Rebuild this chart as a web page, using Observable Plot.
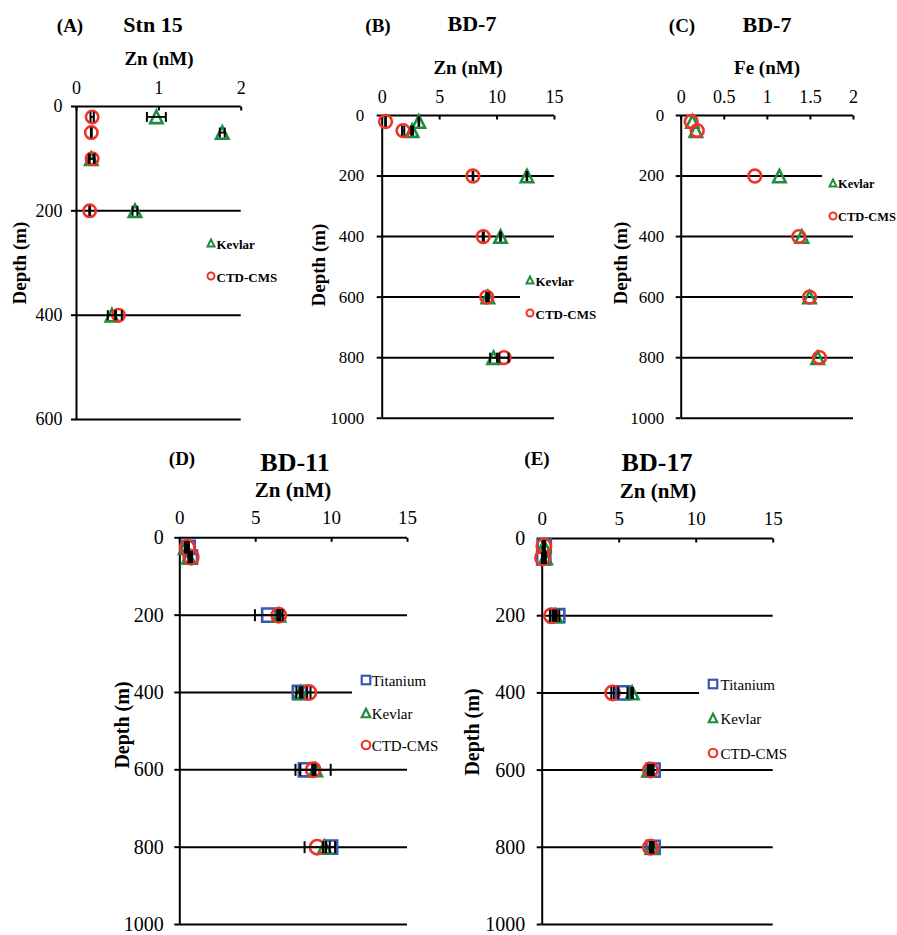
<!DOCTYPE html>
<html><head><meta charset="utf-8">
<script src="https://cdn.jsdelivr.net/npm/d3@7"></script>
<script src="https://cdn.jsdelivr.net/npm/@observablehq/plot@0.6"></script>
<style>
html,body{margin:0;padding:0;background:#fff;overflow:hidden;}
#root{position:relative;width:897px;height:935px;font-family:"Liberation Serif","Times New Roman",serif;color:#000;overflow:hidden;}
.t{position:absolute;transform:translate(-50%,-50%);white-space:nowrap;line-height:1;font-weight:bold;}
.yl{position:absolute;transform:translate(-50%,-50%) rotate(-90deg);white-space:nowrap;line-height:1;font-weight:bold;}
.panel{position:absolute;}
.box{position:absolute;background:#fff;}
.li{position:absolute;white-space:nowrap;line-height:1;transform:translateY(-50%);}
.mk{position:absolute;overflow:visible;}
</style></head><body><div id="root"></div><script>
// ---------- Data ----------
// (A) Stn 15 — Zn (nM)
const stn15Depth = [20, 50, 100, 200, 400];
const stn15KevlarZn = [0.97, 1.77, 0.18, 0.71, 0.43];
const stn15KevlarErr = [0.115, 0.03, 0.03, 0.03, 0.05];
const stn15CtdZn = [0.19, 0.18, 0.19, 0.16, 0.51];
const stn15CtdErr = [0.02, 0.005, 0.03, 0.005, 0.04];

// (B) BD-7 — Zn (nM)
const bd7Depth = [20, 50, 200, 400, 600, 800];
const bd7KevlarZn = [3.19, 2.6, 12.6, 10.3, 9.2, 9.7];
const bd7KevlarZnErr = [0.03, 0.08, 0.03, 0.03, 0.08, 0.3];
const bd7CtdZn = [0.29, 1.82, 7.9, 8.8, 9.1, 10.6];
const bd7CtdZnErr = [0.03, 0.1, 0.03, 0.05, 0.05, 0.4];

// (C) BD-7 — Fe (nM)
const bd7KevlarFe = [0.13, 0.17, 1.14, 1.40, 1.49, 1.585];
const bd7CtdFe = [0.116, 0.186, 0.855, 1.365, 1.49, 1.605];

// (D) BD-11 — Zn (nM)
const bd11Depth = [25, 50, 200, 400, 600, 800];
const bd11TitaniumZn = [0.55, 0.7, 5.86, 7.88, 8.28, 9.93];
const bd11TitaniumErr = [0.05, 0.05, 0.91, 0.2, 0.66, 0.3];
const bd11KevlarZn = [0.37, 0.59, 6.52, 7.95, 8.94, 9.54];
const bd11KevlarErr = [0.03, 0.03, 0.1, 0.05, 1.0, 0.1];
const bd11CtdZn = [0.49, 0.75, 6.52, 8.5, 8.79, 9.05];
const bd11CtdErr = [0.05, 0.05, 0.05, 0.11, 0.05, 0.83];

// (E) BD-17 — Zn (nM)
const bd17Depth = [20, 50, 200, 400, 600, 800];
const bd17TitaniumZn = [0.13, 0.10, 1.01, 5.24, 7.20, 7.20];
const bd17TitaniumErr = [0.03, 0.03, 0.1, 0.3, 0.03, 0.03];
const bd17KevlarZn = [0.11, 0.21, 0.86, 5.84, 6.92, 7.14];
const bd17KevlarErr = [0.03, 0.03, 0.05, 0.05, 0.05, 0.05];
const bd17CtdZn = [0.11, 0.02, 0.60, 4.57, 7.03, 7.03];
const bd17CtdErr = [0.03, 0.03, 0.1, 0.08, 0.05, 0.05];

// Axis ticks
const znTicksA = [0, 1, 2];
const depthTicksA = [0, 200, 400, 600];
const znTicks15 = [0, 5, 10, 15];
const feTicks = [0, 0.5, 1, 1.5, 2];
const depthTicks1000 = [0, 200, 400, 600, 800, 1000];

// ---------- Styling ----------
const GREEN = "#1e8e3e", RED = "#ef3328", BLUE = "#3b56b5";
const capSym = {draw(ctx, size){ const l = Math.sqrt(size/Math.PI); ctx.moveTo(0,-l); ctx.lineTo(0,l); }};
const tickDown = {draw(ctx, size){ const l = Math.sqrt(size/Math.PI); ctx.moveTo(0,0); ctx.lineTo(0,l); }};
const symCircle = {draw(ctx, size){ const r = Math.sqrt(size/Math.PI); ctx.moveTo(r,0); ctx.arc(0,0,r,0,2*Math.PI); }};
const symSquare = {draw(ctx, size){ const r = Math.sqrt(size/Math.PI); ctx.rect(-r,-r,2*r,2*r); }};
const symTriangle = {draw(ctx, size){ const r = Math.sqrt(size/Math.PI); ctx.moveTo(0,-r); ctx.lineTo(r,r); ctx.lineTo(-r,r); ctx.closePath(); }};
const root = document.getElementById("root");

function rows(depth, vals, errs){ return depth.map((d,i)=>({depth:d, v:vals[i], e: errs ? errs[i] : 0})); }

function makePanel(c){
  const marks = [
    Plot.ruleY(c.yTicks.slice(1), {stroke:"#000", strokeWidth: c.lw}),
    Plot.ruleY([c.yDomain[0]], {stroke:"#000", strokeWidth: c.lw}),
    Plot.ruleX([c.xDomain[0]], {stroke:"#000", strokeWidth: c.lw}),
    Plot.axisY({ticks: c.yTicks, tickSize: 5, tickPadding: c.yPad, strokeWidth: c.lw, fontSize: c.fsY, tickFormat: d=>String(d), label:null}),
    Plot.axisX({anchor:"top", ticks: c.xTicks, tickSize: 0, tickPadding: c.xPad, fontSize: c.fsX, tickFormat: d=>String(d), label:null}),
    Plot.dot(c.xTicks, {x: d=>d, frameAnchor:"top", symbol: tickDown, r: 4, fill:"none", stroke:"#000", strokeWidth: c.lw})
  ];
  for (const s of c.series) {
    marks.push(Plot.dot(s.data, {x:"v", y:"depth", symbol: s.symbol, r: s.r, fill:"none", stroke: s.color, strokeWidth: c.msw}));
  }
  for (const s of c.series) {
    const eb = s.data.filter(d=>d.e>0);
    if (!eb.length) continue;
    marks.push(Plot.ruleY(eb, {x1: d=>d.v-d.e, x2: d=>d.v+d.e, y:"depth", stroke:"#000", strokeWidth: 1.8}));
    marks.push(Plot.dot(eb, {x: d=>d.v-d.e, y:"depth", symbol: capSym, r: c.cap, fill:"none", stroke:"#000", strokeWidth: 2}));
    marks.push(Plot.dot(eb, {x: d=>d.v+d.e, y:"depth", symbol: capSym, r: c.cap, fill:"none", stroke:"#000", strokeWidth: 2}));
  }
  const svg = Plot.plot({
    width: c.w, height: c.h,
    marginLeft: c.mL, marginRight: c.mR, marginTop: c.mT, marginBottom: c.mB,
    x: {domain: c.xDomain},
    y: {domain: c.yDomain, reverse: true},
    style: {fontFamily: '"Liberation Serif","Times New Roman",serif', fontSize: c.fsY + "px", background: "none", overflow: "visible", color: "#000"},
    marks
  });
  svg.classList.add("panel");
  svg.style.left = c.left + "px";
  svg.style.top = c.top + "px";
  root.appendChild(svg);
}

function text(str, x, y, size, cls = "t", weight = "bold"){
  const d = document.createElement("div");
  d.className = cls; d.textContent = str;
  d.style.left = x + "px"; d.style.top = y + "px"; d.style.fontSize = size + "px"; d.style.fontWeight = weight;
  root.appendChild(d);
}

function marker(kind, color, x, y, s, sw){
  const ns = "http://www.w3.org/2000/svg";
  const svg = document.createElementNS(ns, "svg");
  svg.setAttribute("class","mk"); svg.setAttribute("width", 20); svg.setAttribute("height", 20);
  svg.style.left = (x-10) + "px"; svg.style.top = (y-10) + "px";
  let el;
  const h = s/2;
  if (kind === "circle") { el = document.createElementNS(ns,"circle"); el.setAttribute("cx",10); el.setAttribute("cy",10); el.setAttribute("r",h); }
  else if (kind === "square") { el = document.createElementNS(ns,"rect"); el.setAttribute("x",10-h); el.setAttribute("y",10-h); el.setAttribute("width",s); el.setAttribute("height",s); }
  else { el = document.createElementNS(ns,"path"); el.setAttribute("d", `M10,${10-h}L${10+h},${10+h}L${10-h},${10+h}Z`); }
  el.setAttribute("fill","none"); el.setAttribute("stroke",color); el.setAttribute("stroke-width",sw);
  svg.appendChild(el);
  root.appendChild(svg);
}

function legend(box, items, o){
  const b = document.createElement("div");
  b.className = "box";
  Object.assign(b.style, {left: box[0]+"px", top: box[1]+"px", width: box[2]+"px", height: box[3]+"px"});
  root.appendChild(b);
  for (const it of items) {
    marker(it.kind, it.color, o.mx, it.y, o.ms, o.msw);
    const d = document.createElement("div");
    d.className = "li"; d.textContent = it.label;
    Object.assign(d.style, {left: o.tx + "px", top: (it.y + 1) + "px", fontSize: o.fs + "px", fontWeight: o.weight});
    root.appendChild(d);
  }
}

// ---------- Panels ----------
makePanel({left:0, top:0, w:300, h:440, mL:76, mR:59.3, mT:106, mB:21,
  xDomain:[0,2], yDomain:[0,600], xTicks: znTicksA, yTicks: depthTicksA,
  fsX:18, fsY:18, xPad:13, yPad:9, lw:2, msw:2.6, cap:5,
  series:[
    {data: rows(stn15Depth, stn15KevlarZn, stn15KevlarErr), symbol: symTriangle, r:6.2, color:GREEN},
    {data: rows(stn15Depth, stn15CtdZn, stn15CtdErr), symbol: symCircle, r:6.2, color:RED}
  ]});

makePanel({left:300, top:0, w:300, h:440, mL:81.7, mR:46, mT:115, mB:22.3,
  xDomain:[0,15], yDomain:[0,1000], xTicks: znTicks15, yTicks: depthTicks1000,
  fsX:18, fsY:17, xPad:13, yPad:13, lw:2, msw:2.6, cap:5,
  series:[
    {data: rows(bd7Depth, bd7KevlarZn, bd7KevlarZnErr), symbol: symTriangle, r:6.2, color:GREEN},
    {data: rows(bd7Depth, bd7CtdZn, bd7CtdZnErr), symbol: symCircle, r:6.4, color:RED}
  ]});

makePanel({left:600, top:0, w:297, h:440, mL:80.7, mR:44, mT:115, mB:22.3,
  xDomain:[0,2], yDomain:[0,1000], xTicks: feTicks, yTicks: depthTicks1000,
  fsX:18, fsY:17, xPad:13, yPad:12, lw:2, msw:2.6, cap:5,
  series:[
    {data: rows(bd7Depth, bd7KevlarFe), symbol: symTriangle, r:6.2, color:GREEN},
    {data: rows(bd7Depth, bd7CtdFe), symbol: symCircle, r:6.4, color:RED}
  ]});

makePanel({left:100, top:440, w:350, h:495, mL:79.3, mR:43, mT:97.3, mB:11,
  xDomain:[0,15], yDomain:[0,1000], xTicks: znTicks15, yTicks: depthTicks1000,
  fsX:19, fsY:20, xPad:14, yPad:11, lw:2, msw:2.6, cap:6,
  series:[
    {data: rows(bd11Depth, bd11TitaniumZn, bd11TitaniumErr), symbol: symSquare, r:6.6, color:BLUE},
    {data: rows(bd11Depth, bd11KevlarZn, bd11KevlarErr), symbol: symTriangle, r:6.4, color:GREEN},
    {data: rows(bd11Depth, bd11CtdZn, bd11CtdErr), symbol: symCircle, r:7.2, color:RED}
  ]});

makePanel({left:450, top:440, w:447, h:495, mL:91.7, mR:124.3, mT:98, mB:11,
  xDomain:[0,15], yDomain:[0,1000], xTicks: znTicks15, yTicks: depthTicks1000,
  fsX:19, fsY:20, xPad:14, yPad:12, lw:2, msw:2.6, cap:6,
  series:[
    {data: rows(bd17Depth, bd17TitaniumZn, bd17TitaniumErr), symbol: symSquare, r:6.6, color:BLUE},
    {data: rows(bd17Depth, bd17KevlarZn, bd17KevlarErr), symbol: symTriangle, r:6.4, color:GREEN},
    {data: rows(bd17Depth, bd17CtdZn, bd17CtdErr), symbol: symCircle, r:7.2, color:RED}
  ]});

// ---------- Titles and axis labels ----------
text("(A)", 70, 25, 19); text("Stn 15", 153, 25, 22); text("Zn (nM)", 159, 58, 19);
text("(B)", 378, 25, 19); text("BD-7", 472, 24, 22); text("Zn (nM)", 468, 67, 19);
text("(C)", 682, 25, 19); text("BD-7", 767, 25, 22); text("Fe (nM)", 767, 67, 19);
text("(D)", 182, 458, 19); text("BD-11", 295, 463, 26); text("Zn (nM)", 293, 490, 21);
text("(E)", 537, 458, 19); text("BD-17", 657, 463, 26); text("Zn (nM)", 658, 491, 21);
text("Depth (m)", 19, 263, 19, "yl"); text("Depth (m)", 318, 265, 19, "yl"); text("Depth (m)", 620, 263, 19, "yl");
text("Depth (m)", 122, 725, 20, "yl"); text("Depth (m)", 472, 732, 20, "yl");

// ---------- Legends ----------
legend([202, 232, 90, 56], [
  {kind:"triangle", color:GREEN, label:"Kevlar", y:243.3},
  {kind:"circle", color:RED, label:"CTD-CMS", y:276.3}
], {mx:210.5, tx:216.5, ms:7, msw:2, fs:13, weight:"bold"});
legend([520, 268, 80, 57], [
  {kind:"triangle", color:GREEN, label:"Kevlar", y:279.7},
  {kind:"circle", color:RED, label:"CTD-CMS", y:313.3}
], {mx:529.5, tx:535.5, ms:7, msw:2, fs:13, weight:"bold"});
legend([822, 170, 75, 58], [
  {kind:"triangle", color:GREEN, label:"Kevlar", y:182.7},
  {kind:"circle", color:RED, label:"CTD-CMS", y:216.3}
], {mx:832.5, tx:838, ms:7, msw:2, fs:12.4, weight:"bold"});
legend([352, 665, 98, 92], [
  {kind:"square", color:BLUE, label:"Titanium", y:680},
  {kind:"triangle", color:GREEN, label:"Kevlar", y:713.3},
  {kind:"circle", color:RED, label:"CTD-CMS", y:744.5}
], {mx:365.5, tx:371.7, ms:8.5, msw:2.2, fs:15, weight:"normal"});
legend([699, 670, 120, 98], [
  {kind:"square", color:BLUE, label:"Titanium", y:684.3},
  {kind:"triangle", color:GREEN, label:"Kevlar", y:718.3},
  {kind:"circle", color:RED, label:"CTD-CMS", y:753.3}
], {mx:713.3, tx:720.5, ms:8.5, msw:2.2, fs:15, weight:"normal"});
</script></body></html>
